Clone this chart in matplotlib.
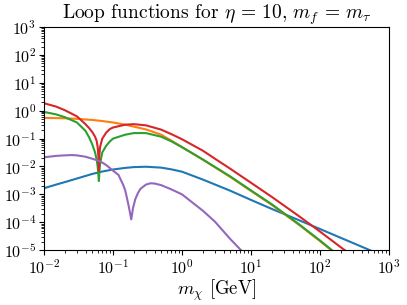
import matplotlib
matplotlib.use('Agg')
import matplotlib.pyplot as plt
from matplotlib.ticker import LogLocator, NullFormatter

plt.rcParams['font.family'] = 'serif'
plt.rcParams['font.serif'] = ['cmr10']
plt.rcParams['mathtext.fontset'] = 'cm'
plt.rcParams['axes.formatter.use_mathtext'] = True
plt.rcParams['axes.unicode_minus'] = False

# values (x in GeV)
x_blue = [0.01, 0.015, 0.02, 0.03, 0.05, 0.07, 0.1, 0.15, 0.2, 0.3, 0.5, 0.7, 1, 2, 5, 10, 20, 50, 100, 200, 500, 1000]
y_blue = [1.66e-3, 2.24e-3, 2.75e-3, 3.7e-3, 5.4e-3, 6.6e-3, 7.8e-3, 8.9e-3, 9.5e-3, 9.8e-3, 9.1e-3,
          7.9e-3, 6.5e-3, 3.4e-3, 1.35e-3, 6.3e-4, 3.0e-4, 1.17e-4, 5.7e-5, 2.75e-5, 1.05e-5, 5e-6]

x_orange = [0.01, 0.02, 0.03, 0.05, 0.07, 0.1, 0.15, 0.2, 0.3, 0.5, 0.7, 1, 2, 5, 10, 20, 50, 100, 200]
y_orange = [0.556, 0.537, 0.513, 0.468, 0.427, 0.38, 0.316, 0.27, 0.214, 0.138, 0.085, 0.05, 0.0178,
            4.2e-3, 1.32e-3, 4.2e-4, 7.9e-5, 2.1e-5, 5.2e-6]

x_green = [0.01, 0.015, 0.02, 0.03, 0.04, 0.045, 0.05, 0.055, 0.058, 0.06, 0.0615, 0.0625, 0.0635,
           0.065, 0.07, 0.08, 0.09, 0.1, 0.15, 0.2, 0.3, 0.5, 0.7, 1, 2, 5, 10, 20, 50, 100, 200]
y_green = [0.91, 0.74, 0.59, 0.38, 0.19, 0.112, 0.063, 0.032, 0.0178, 0.010, 0.005, 0.003, 0.0063,
           0.0126, 0.032, 0.056, 0.079, 0.10, 0.138, 0.158, 0.158, 0.117, 0.08, 0.049, 0.0178, 4.4e-3,
           1.38e-3, 4.4e-4, 8.3e-5, 2.2e-5, 5.5e-6]

x_red = [0.01, 0.015, 0.02, 0.03, 0.04, 0.045, 0.05, 0.055, 0.058, 0.06, 0.0615, 0.0625, 0.0635,
         0.065, 0.07, 0.08, 0.09, 0.1, 0.15, 0.2, 0.3, 0.5, 0.7, 1, 2, 3, 5, 10, 20, 50, 100, 200, 300]
y_red = [1.86, 1.41, 1.05, 0.63, 0.33, 0.24, 0.174, 0.117, 0.083, 0.050, 0.0224, 0.0071, 0.025,
         0.050, 0.10, 0.166, 0.22, 0.25, 0.316, 0.33, 0.30, 0.21, 0.145, 0.095, 0.037, 0.019, 8.3e-3,
         2.6e-3, 8.1e-4, 1.62e-4, 4.6e-5, 1.26e-5, 6e-6]

x_purple = [0.01, 0.015, 0.02, 0.025, 0.03, 0.04, 0.05, 0.06, 0.07, 0.08, 0.1, 0.12, 0.14, 0.15,
            0.16, 0.17, 0.184, 0.195, 0.21, 0.23, 0.25, 0.3, 0.35, 0.4, 0.5, 0.7, 1, 2, 3, 5, 7, 8]
y_purple = [0.0214, 0.024, 0.0251, 0.0257, 0.0251, 0.0224, 0.019, 0.0166, 0.0138, 0.0112, 0.0071,
            5.0e-3, 2.24e-3, 1.41e-3, 7.1e-4, 3.5e-4, 1.26e-4, 3.2e-4, 6.6e-4, 1.12e-3, 1.58e-3,
            2.24e-3, 2.5e-3, 2.45e-3, 2.14e-3, 1.51e-3, 1.0e-3, 2.6e-4, 1.05e-4, 2.5e-5, 1.05e-5, 7.4e-6]

fig = plt.figure(figsize=(4.07, 3.05), dpi=100)
ax = fig.add_axes([0.108, 0.18, 0.848, 0.731])

lw = 1.5
ax.loglog(x_blue, y_blue, color='C0', lw=lw)
ax.loglog(x_orange, y_orange, color='C1', lw=lw)
ax.loglog(x_green, y_green, color='C2', lw=lw)
ax.loglog(x_red, y_red, color='C3', lw=lw)
ax.loglog(x_purple, y_purple, color='C4', lw=lw)

ax.set_xlim(1e-2, 1e3)
ax.set_ylim(1e-5, 1e3)
for axis in (ax.xaxis, ax.yaxis):
    axis.set_major_locator(LogLocator(base=10, numticks=20))
    axis.set_minor_locator(LogLocator(base=10, subs=range(2, 10), numticks=20))
    axis.set_minor_formatter(NullFormatter())
ax.tick_params(labelsize=11.5, pad=2)
ax.set_xlabel(r'$m_\chi$ [GeV]', fontsize=13.5, labelpad=1)
ax.set_title(r'Loop functions for $\eta\,=\,10$, $m_f\,=\,m_\tau$', fontsize=14, pad=3)

fig.savefig('out.png', dpi=100)
